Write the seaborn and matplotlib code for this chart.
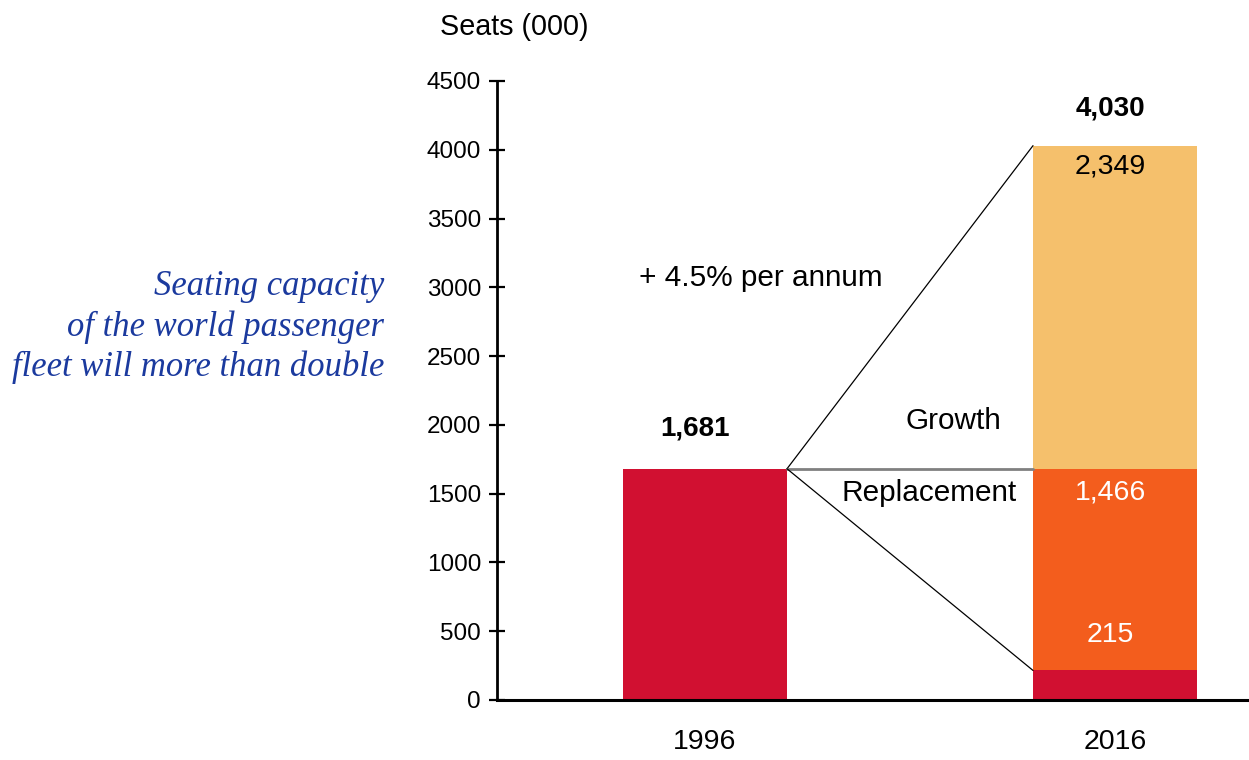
import matplotlib
matplotlib.use("Agg")
import matplotlib.pyplot as plt
import pandas as pd
import seaborn as sns

# Seats (000) in the world passenger fleet
years = ["1996", "2016"]
fleet_1996 = 1681
retained_2016 = 215
replacement_2016 = 1466
growth_2016 = 2349
total_2016 = 4030
yticks = [0, 500, 1000, 1500, 2000, 2500, 3000, 3500, 4000, 4500]

RED = "#D11031"
ORANGE = "#F35D1D"
LIGHT = "#F5C06C"

sns.set_theme(style="white")
plt.rcParams["font.family"] = ["Liberation Sans", "DejaVu Sans"]
plt.rcParams["text.color"] = "black"
plt.rcParams["xtick.color"] = "black"
plt.rcParams["ytick.color"] = "black"
plt.rcParams["xtick.labelcolor"] = "black"
plt.rcParams["ytick.labelcolor"] = "black"

fig = plt.figure(figsize=(12.49, 7.6), dpi=100)
ax = fig.add_axes([497 / 1249, 60 / 760, 1 - 497 / 1249, (700 - 81) / 760])

mid_2016 = retained_2016 + replacement_2016

# Stacked columns drawn back-to-front (tallest layer first)
layers = [
    (pd.DataFrame({"year": years, "seats": [fleet_1996, total_2016]}),
     {"1996": RED, "2016": LIGHT}),
    (pd.DataFrame({"year": ["2016"], "seats": [mid_2016]}),
     {"2016": ORANGE}),
    (pd.DataFrame({"year": ["2016"], "seats": [retained_2016]}),
     {"2016": RED}),
]
for df, pal in layers:
    sns.barplot(data=df, x="year", y="seats", hue="year", order=years,
                hue_order=list(pal.keys()), palette=pal, width=0.4,
                dodge=False, legend=False, saturation=1, ax=ax,
                linewidth=0, errorbar=None)

ax.set_xlim(-208 / 410, (1249 - 705) / 410)
ax.set_ylim(0, 4500)
ax.set_yticks(yticks)
ax.set_xlabel("")
ax.set_ylabel("")

for side in ["top", "right"]:
    ax.spines[side].set_visible(False)
ax.spines["left"].set_linewidth(2)
ax.spines["bottom"].set_linewidth(2.2)
ax.spines["left"].set_color("black")
ax.spines["bottom"].set_color("black")
ax.tick_params(axis="y", direction="inout", length=11, width=1.6,
               color="black", labelsize=17.5, pad=6, left=True,
               labelcolor="black")
ax.tick_params(axis="x", length=0, labelsize=20.5, pad=21, labelcolor="black")

# Connector lines from the 1996 column to the 2016 column
x_from = 0.2
x_to = 0.8
ax.plot([x_from, x_to], [fleet_1996, total_2016], color="black", lw=0.9)
ax.plot([x_from, x_to], [fleet_1996, mid_2016], color="#808080", lw=2)
ax.plot([x_from, x_to], [fleet_1996, retained_2016], color="black", lw=0.9)

# Value labels
ax.text(-0.024, 1975, f"{fleet_1996:,}", ha="center", va="center",
        fontsize=20, fontweight="bold", color="black")
ax.text(0.988, 4300, f"{total_2016:,}", ha="center", va="center",
        fontsize=20, fontweight="bold", color="black")
ax.text(0.988, 3875, f"{growth_2016:,}", ha="center", va="center",
        fontsize=20.5, color="black")
ax.text(0.988, 1505, f"{replacement_2016:,}", ha="center", va="center",
        fontsize=20.5, color="white")
ax.text(0.988, 470, f"{retained_2016:,}", ha="center", va="center",
        fontsize=20.5, color="white")

ax.text(0.605, 2030, "Growth", ha="center", va="center", fontsize=21.4,
        color="black")
ax.text(0.546, 1505, "Replacement", ha="center", va="center", fontsize=21.4,
        color="black")
ax.text(0.137, 3070, "+ 4.5% per annum", ha="center", va="center",
        fontsize=21.4, color="black")

fig.text(514 / 1249, 1 - 27 / 760, "Seats (000)", ha="center", va="center",
         fontsize=20.7, color="black")
fig.text(384 / 1249, 1 - 327 / 760,
         "Seating capacity\nof the world passenger\nfleet will more than double",
         ha="right", va="center", fontsize=24.9, fontstyle="italic",
         family=["Liberation Serif", "DejaVu Serif"], color="#1B3A9E",
         linespacing=1.27, multialignment="right")

fig.savefig("out.png", dpi=100, facecolor="white")
